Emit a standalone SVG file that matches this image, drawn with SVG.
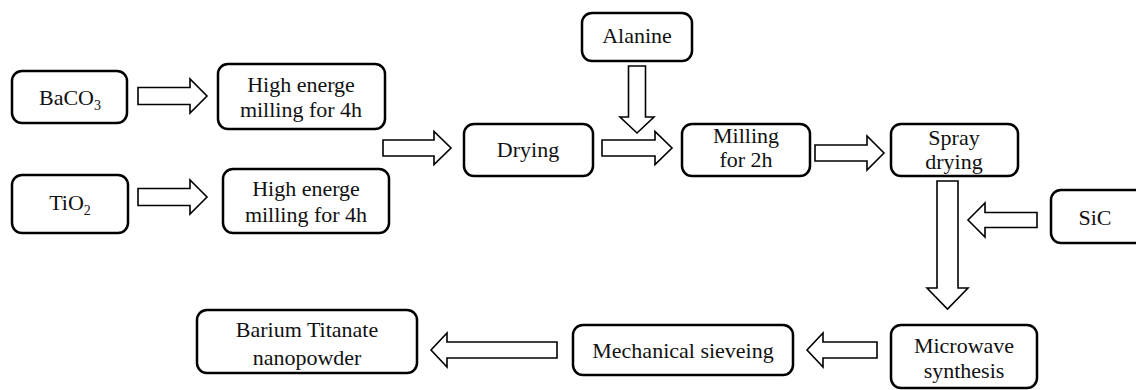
<svg xmlns="http://www.w3.org/2000/svg" width="1136" height="390" viewBox="0 0 1136 390">
<style>
.box{fill:#fff;stroke:#000;stroke-width:2.5}
.arr{fill:#fff;stroke:#000;stroke-width:1.6;stroke-linejoin:miter}
text{font-family:'Liberation Serif','DejaVu Serif',serif;font-size:22px;fill:#111;text-anchor:middle}
.sub{font-size:14px}
</style>
<rect width="1136" height="390" fill="#fff"/>
<g id="connectors">
<path class="arr" d="M138,87.5H190V79L207,96L190,113V104.5H138Z"/>
<path class="arr" d="M138,188.5H190V180L207,197L190,214V205.5H138Z"/>
<path class="arr" d="M383,140H434V131.5L451,148L434,164.5V156H383Z"/>
<path class="arr" d="M602,140H655V131.5L672,148L655,164.5V156H602Z"/>
<path class="arr" d="M628.5,66V117H620L637,133L654,117H645.5V66Z"/>
<path class="arr" d="M815,145H867V136L884,153L867,170V161H815Z"/>
<path class="arr" d="M937,181V288H927L947.5,309L968,288H958V181Z"/>
<path class="arr" d="M1037,212.5H985V203L968,220L985,237V227.5H1037Z"/>
<path class="arr" d="M877,342H823V333L807,350L823,367V358H877Z"/>
<path class="arr" d="M557,342H447V333L431,350L447,367V358H557Z"/>
</g>
<g id="n-baco3"><rect class="box" x="12" y="71" width="115" height="52" rx="10"/><text x="70" y="105">BaCO<tspan class="sub" dy="5">3</tspan></text></g>
<g id="n-mill1"><rect class="box" x="218" y="64" width="167" height="65" rx="10"/><text x="301" y="92">High energe</text><text x="301" y="117">milling for 4h</text></g>
<g id="n-tio2"><rect class="box" x="12" y="175" width="116" height="58" rx="10"/><text x="70" y="210">TiO<tspan class="sub" dy="5">2</tspan></text></g>
<g id="n-mill2"><rect class="box" x="223" y="169" width="166" height="64" rx="10"/><text x="306" y="196">High energe</text><text x="306" y="222">milling for 4h</text></g>
<g id="n-drying"><rect class="box" x="464" y="124" width="129" height="52" rx="10"/><text x="528" y="157">Drying</text></g>
<g id="n-alanine"><rect class="box" x="582" y="13" width="110" height="48" rx="10"/><text x="637" y="43">Alanine</text></g>
<g id="n-mill3"><rect class="box" x="682" y="124" width="128" height="52" rx="10"/><text x="746" y="143">Milling</text><text x="746" y="167">for 2h</text></g>
<g id="n-spray"><rect class="box" x="891" y="124" width="127" height="52" rx="10"/><text x="954" y="145">Spray</text><text x="954" y="169">drying</text></g>
<g id="n-sic"><rect class="box" x="1051" y="190" width="95" height="53" rx="10"/><text x="1095" y="225">SiC</text></g>
<g id="n-microwave"><rect class="box" x="891" y="325" width="146" height="63" rx="10"/><text x="964" y="353">Microwave</text><text x="964" y="378">synthesis</text></g>
<g id="n-sieve"><rect class="box" x="573" y="325" width="220" height="50" rx="10"/><text x="683" y="358">Mechanical sieveing</text></g>
<g id="n-bto"><rect class="box" x="197" y="310" width="220" height="63" rx="10"/><text x="307" y="337">Barium Titanate</text><text x="307" y="365">nanopowder</text></g>
</svg>
